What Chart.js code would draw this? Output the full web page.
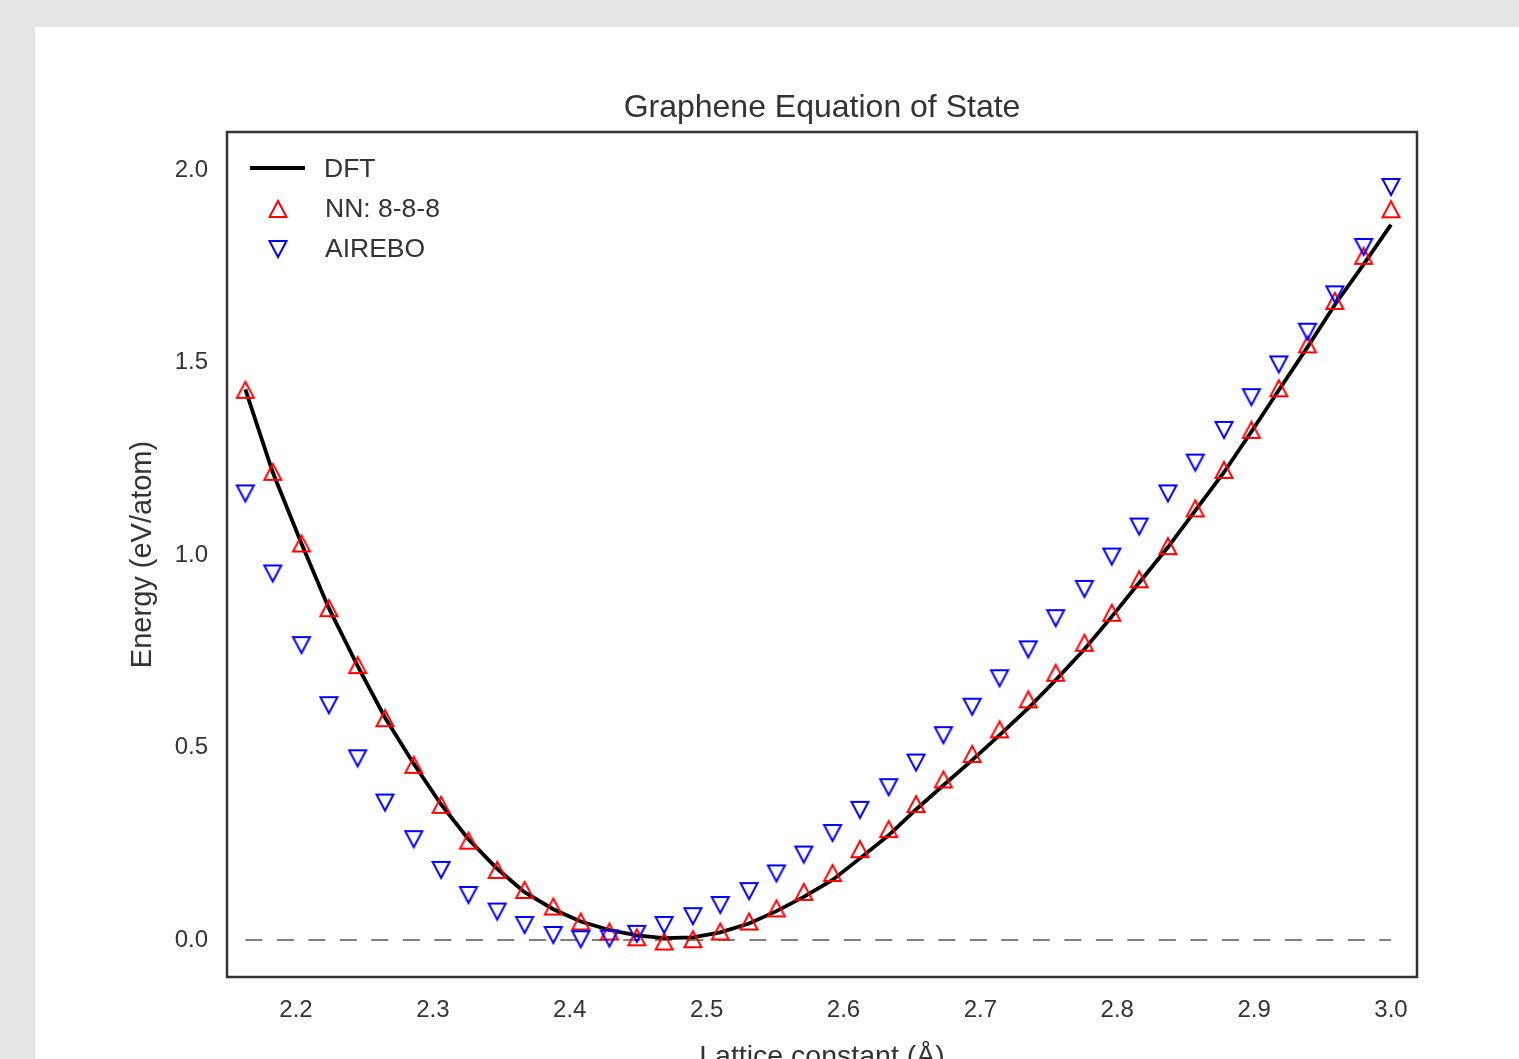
<!DOCTYPE html>
<html>
<head>
<meta charset="utf-8">
<title>Graphene Equation of State</title>
<script src="https://cdn.jsdelivr.net/npm/chart.js@4.4.0/dist/chart.umd.min.js"></script>
<style>
  html, body { margin: 0; padding: 0; background: #e5e5e5; overflow: hidden; }
  #panel { position: absolute; left: 35px; top: 27px; width: 1484px; height: 1032px; background: #fff; overflow: hidden; }
  #wrap { position: absolute; left: 0; top: 0; width: 1484px; height: 1100px; }
</style>
</head>
<body>
<div id="panel"><div id="wrap"><canvas id="eosChart" width="1484" height="1100"></canvas></div></div>
<script>
// lattice constants (Angstrom) and energies (eV/atom)
const latticeConstant = [
  2.163, 2.183, 2.204, 2.224, 2.245, 2.265, 2.286, 2.306, 2.326, 2.347,
  2.367, 2.388, 2.408, 2.429, 2.449, 2.469, 2.490, 2.510, 2.531, 2.551,
  2.571, 2.592, 2.612, 2.633, 2.653, 2.673, 2.694, 2.714, 2.735, 2.755,
  2.776, 2.796, 2.816, 2.837, 2.857, 2.878, 2.898, 2.918, 2.939, 2.959,
  2.980, 3.000
];
const energyDFT = [
  1.430, 1.215, 1.030, 0.862, 0.712, 0.578, 0.458, 0.352, 0.262, 0.185,
  0.124, 0.080, 0.048, 0.026, 0.012, 0.005, 0.007, 0.020, 0.043, 0.075,
  0.112, 0.156, 0.212, 0.272, 0.339, 0.402, 0.467, 0.532, 0.602, 0.675,
  0.755, 0.840, 0.928, 1.020, 1.115, 1.215, 1.320, 1.428, 1.540, 1.650,
  1.755, 1.858
];
const energyNN = [
  1.429, 1.216, 1.030, 0.862, 0.714, 0.576, 0.455, 0.351, 0.258, 0.182,
  0.130, 0.087, 0.048, 0.022, 0.007, -0.004, 0.002, 0.022, 0.048, 0.082,
  0.125, 0.174, 0.236, 0.288, 0.353, 0.417, 0.483, 0.547, 0.625, 0.694,
  0.772, 0.850, 0.937, 1.023, 1.121, 1.221, 1.325, 1.433, 1.547, 1.660,
  1.777, 1.898
];
const energyAIREBO = [
  1.160, 0.952, 0.766, 0.610, 0.472, 0.357, 0.262, 0.182, 0.117, 0.074,
  0.039, 0.013, 0.002, 0.004, 0.016, 0.039, 0.062, 0.091, 0.127, 0.173,
  0.222, 0.278, 0.338, 0.397, 0.461, 0.532, 0.606, 0.680, 0.755, 0.836,
  0.912, 0.996, 1.074, 1.160, 1.240, 1.325, 1.410, 1.495, 1.580, 1.677,
  1.800, 1.956
];
const xTicks = [2.2, 2.3, 2.4, 2.5, 2.6, 2.7, 2.8, 2.9, 3.0];
const yTicks = [0.0, 0.5, 1.0, 1.5, 2.0];

const chartTitle = "Graphene Equation of State";
const textColor = "#333333";
const fontFamily = '"Liberation Sans", Arial, sans-serif';
Chart.defaults.font.family = fontFamily;
Chart.defaults.color = textColor;

// hollow triangle markers, centred like matplotlib's ^ and v
function triangleMarker(color, down) {
  const c = document.createElement("canvas");
  c.width = 24;
  c.height = 24;
  const g = c.getContext("2d");
  const w = 17, h = 16, cx = 12, cy = 12;
  g.strokeStyle = color;
  g.lineWidth = 2;
  g.beginPath();
  if (down) {
    g.moveTo(cx, cy + h / 2);
    g.lineTo(cx - w / 2, cy - h / 2);
    g.lineTo(cx + w / 2, cy - h / 2);
  } else {
    g.moveTo(cx, cy - h / 2);
    g.lineTo(cx - w / 2, cy + h / 2);
    g.lineTo(cx + w / 2, cy + h / 2);
  }
  g.closePath();
  g.stroke();
  return c;
}
const markerUp = triangleMarker("#ff0000", false);
const markerDown = triangleMarker("#0000ff", true);

const toPoints = (ys) => latticeConstant.map((x, i) => ({ x: x, y: ys[i] }));

// axes frame on all four sides + title centred over the axes
const framePlugin = {
  id: "frame",
  afterDatasetsDraw(chart) {
    const { ctx, chartArea: a } = chart;
    ctx.save();
    ctx.strokeStyle = "#333333";
    ctx.lineWidth = 2.5;
    ctx.strokeRect(a.left, a.top, a.right - a.left, a.bottom - a.top);
    ctx.font = "32px " + fontFamily;
    ctx.fillStyle = textColor;
    ctx.textAlign = "center";
    ctx.textBaseline = "middle";
    ctx.fillText(chartTitle, (a.left + a.right) / 2, a.top - 24);
    ctx.restore();
  },
};

// legend inside the upper left corner
const innerLegend = {
  id: "innerLegend",
  afterDraw(chart) {
    const { ctx, chartArea: a } = chart;
    const ds = chart.data.datasets;
    ctx.save();
    ctx.font = "26.5px " + fontFamily;
    ctx.fillStyle = textColor;
    ctx.textBaseline = "middle";
    ctx.textAlign = "left";
    // DFT
    ctx.strokeStyle = ds[0].borderColor;
    ctx.lineWidth = ds[0].borderWidth;
    ctx.beginPath();
    ctx.moveTo(a.left + 23, a.top + 36);
    ctx.lineTo(a.left + 78, a.top + 36);
    ctx.stroke();
    ctx.fillText(ds[0].label, a.left + 97, a.top + 38);
    // NN
    ctx.drawImage(markerUp, a.left + 51 - 12, a.top + 77 - 12);
    ctx.fillText(ds[1].label, a.left + 98, a.top + 78);
    // AIREBO
    ctx.drawImage(markerDown, a.left + 51 - 12, a.top + 117 - 12);
    ctx.fillText(ds[2].label, a.left + 98, a.top + 118);
    ctx.restore();
  },
};

const ctx = document.getElementById("eosChart").getContext("2d");

const config = {
  type: "scatter",
  data: {
    datasets: [
      {
        label: "DFT",
        data: toPoints(energyDFT),
        showLine: true,
        borderColor: "#000000",
        borderWidth: 3.8,
        pointRadius: 0,
        order: 3,
      },
      {
        label: "NN: 8-8-8",
        data: toPoints(energyNN),
        pointStyle: markerUp,
        pointRadius: 8,
        order: 2,
      },
      {
        label: "AIREBO",
        data: toPoints(energyAIREBO),
        pointStyle: markerDown,
        pointRadius: 8,
        order: 1,
      },
      {
        label: "zero",
        data: [
          { x: latticeConstant[0], y: 0 },
          { x: latticeConstant[latticeConstant.length - 1], y: 0 },
        ],
        showLine: true,
        borderColor: "#808080",
        borderWidth: 2,
        borderDash: [17, 14.5],
        pointRadius: 0,
        order: 4,
      },
    ],
  },
  options: {
    responsive: false,
    animation: false,
    events: [],
    layout: { padding: { left: 0, right: 102, top: 105, bottom: 0 } },
    plugins: {
      legend: { display: false },
      tooltip: { enabled: false },
      title: { display: false },
    },
    scales: {
      x: {
        type: "linear",
        min: 2.1496,
        max: 3.019,
        grid: { display: false, drawTicks: false },
        border: { display: false },
        afterBuildTicks: (scale) => {
          scale.ticks = xTicks.map((v) => ({ value: v }));
        },
        afterFit: (scale) => {
          scale.height = 150;
        },
        ticks: {
          padding: 18.5,
          color: textColor,
          font: { size: 24 },
          callback: (v) => Number(v).toFixed(1),
        },
        title: {
          display: true,
          text: "Lattice constant (Å)",
          color: textColor,
          font: { size: 28.5 },
          padding: { top: 0, bottom: 53 },
        },
      },
      y: {
        type: "linear",
        min: -0.0961,
        max: 2.0987,
        grid: { display: false, drawTicks: false },
        border: { display: false },
        afterBuildTicks: (scale) => {
          scale.ticks = yTicks.map((v) => ({ value: v }));
        },
        afterFit: (scale) => {
          scale.width = 192;
        },
        ticks: {
          padding: 19,
          color: textColor,
          font: { size: 24 },
          callback: (v) => Number(v).toFixed(1),
        },
        title: {
          display: true,
          text: "Energy (eV/atom)",
          color: textColor,
          font: { size: 29 },
          padding: { top: 91, bottom: 0 },
        },
      },
    },
  },
  plugins: [framePlugin, innerLegend],
};

const eosChart = new Chart(ctx, config);
</script>
</body>
</html>
